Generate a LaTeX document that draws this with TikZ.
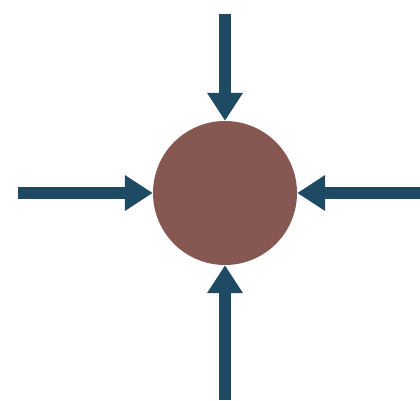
\documentclass[tikz,border=0pt]{standalone}
\usetikzlibrary{arrows.meta}
\definecolor{arrowblue}{RGB}{30,74,99}
\definecolor{ballbrown}{RGB}{135,88,82}
\tikzset{
  inarrow/.style={draw=arrowblue, line width=11.5pt,
    -{Triangle[width=34pt,length=28pt]}, arrowblue},
  ball/.style={circle, fill=ballbrown, draw=none, inner sep=0pt, minimum size=144pt}
}
\begin{document}
\begin{tikzpicture}[x=1pt,y=-1pt]
\useasboundingbox[fill=white] (0,0) rectangle (420,401);
\node[ball] (c) at (225,193) {};
\coordinate (t) at (225,14);
\coordinate (b) at (225,400);
\coordinate (l) at (18,193);
\coordinate (r) at (420,193);
\draw[inarrow] (t) -- (c.north);
\draw[inarrow] (b) -- (c.south);
\draw[inarrow] (l) -- (c.west);
\draw[inarrow] (r) -- (c.east);
\end{tikzpicture}
\end{document}
